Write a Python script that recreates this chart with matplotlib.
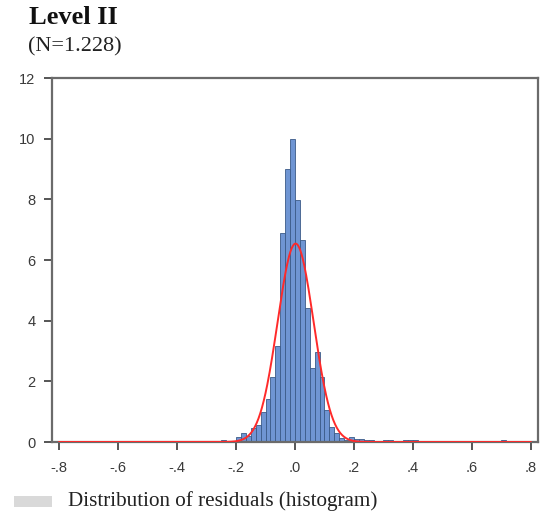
import numpy as np
import matplotlib
matplotlib.use("Agg")
import matplotlib.pyplot as plt
from matplotlib.patches import Rectangle

# ---- data ----
bin_width = 1.0 / 60.0
# left edges expressed as bin index (edge = index * bin_width)
bin_index = [-15, -14, -13, -12, -11, -10, -9, -8, -7, -6, -5, -4, -3, -2, -1,
             0, 1, 2, 3, 4, 5, 6, 7, 8, 9, 10, 11, 12, 13, 14, 15, 18, 19, 22, 23, 24, 42]
density = [0.07, 0.03, 0.0, 0.15, 0.30, 0.20, 0.45, 0.55, 1.00, 1.42, 2.15, 3.15, 6.90, 9.00, 10.00,
           7.98, 6.66, 4.41, 2.43, 2.98, 2.15, 1.05, 0.50, 0.29, 0.12, 0.07, 0.15, 0.10, 0.10, 0.05, 0.05,
           0.05, 0.05, 0.05, 0.05, 0.05, 0.05]
normal_mean = 0.002
normal_sd = 0.061

xticks = [-0.8, -0.6, -0.4, -0.2, 0.0, 0.2, 0.4, 0.6, 0.8]
xtick_labels = ["-.8", "-.6", "-.4", "-.2", ".0", ".2", ".4", ".6", ".8"]
yticks = [0, 2, 4, 6, 8, 10, 12]

title = "Level II"
subtitle = "(N=1.228)"
legend_text = "Distribution of residuals (histogram)"

# ---- figure ----
fig = plt.figure(figsize=(5.47, 5.2), dpi=100)
ax = fig.add_axes([52 / 547, 1 - 442 / 520, (538 - 52) / 547, (442 - 78) / 520])

edges = np.array(bin_index) * bin_width
ax.bar(edges, density, width=bin_width, align="edge",
       color="#6f95d3", edgecolor="#3b5a88", linewidth=0.6, zorder=2)

xs = np.linspace(-0.8, 0.8, 801)
pdf = np.exp(-0.5 * ((xs - normal_mean) / normal_sd) ** 2) / (normal_sd * np.sqrt(2 * np.pi))
ax.plot(xs, pdf, color="#ff2a2a", linewidth=1.4, zorder=3)

ax.set_xlim(-0.825, 0.825)
ax.set_ylim(0, 12)
ax.set_xticks(xticks)
ax.set_xticklabels(xtick_labels)
ax.set_yticks(yticks)

for s in ax.spines.values():
    s.set_color("#6b6b6b")
    s.set_linewidth(1.6)

ax.tick_params(axis="both", direction="out", length=6, width=1.4, color="#555555",
               labelsize=10.5, labelcolor="#3a3a3a")
ax.tick_params(axis="x", pad=8)
ax.tick_params(axis="y", pad=6)
for lab in ax.get_xticklabels() + ax.get_yticklabels():
    lab.set_family(["Liberation Sans", "DejaVu Sans"])

fig.text(29 / 547, 1 - 18 / 520, title, family=["Liberation Serif", "DejaVu Serif"],
         fontweight="bold", fontsize=19, va="center", ha="left", color="#111111")
fig.text(28 / 547, 1 - 47 / 520, subtitle, family=["Liberation Serif", "DejaVu Serif"],
         fontsize=16, va="center", ha="left", color="#222222")

fig.patches.append(Rectangle((14 / 547, 1 - 507 / 520), 38 / 547, 11 / 520,
                             transform=fig.transFigure, facecolor="#d9d9d9",
                             edgecolor="none", figure=fig))
fig.text(68 / 547, 1 - 501 / 520, legend_text, family=["Liberation Serif", "DejaVu Serif"],
         fontsize=15.2, va="center", ha="left", color="#222222")

fig.savefig("out.png", dpi=100)
